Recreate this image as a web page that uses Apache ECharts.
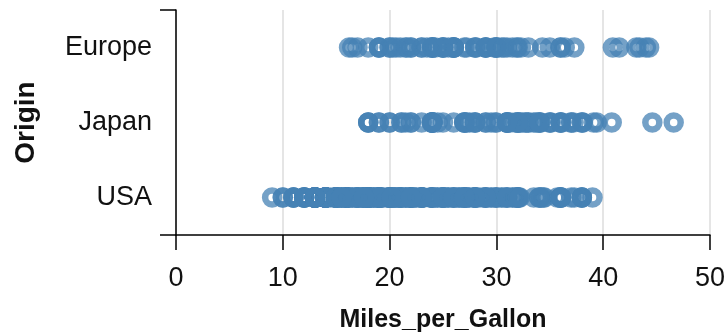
<!DOCTYPE html>
<html>
<head>
<meta charset="utf-8">
<script src="https://cdn.jsdelivr.net/npm/echarts@6/dist/echarts.min.js"></script>
<style>
  html, body { margin: 0; padding: 0; background: #fff; }
  #chart { width: 728px; height: 332px; }
</style>
</head>
<body>
<div id="chart"></div>
<script>
// Miles_per_Gallon readings per origin
const origins = ['Europe', 'Japan', 'USA'];
const xTicks = [0, 10, 20, 30, 40, 50];

const europeMpg = [26, 25, 24, 25, 26, 28, 30, 30, 27, 23, 22, 26, 28, 24, 21, 19, 23, 26, 29, 24,
    20, 19, 24, 26, 31, 32, 26, 25, 29, 24, 20, 16.2, 17, 18, 19, 21.5, 22, 25, 29, 30,
    36, 25.5, 20.3, 21.6, 16.5, 29.8, 31.5, 30.5, 29, 37.3, 43.1, 36.4, 30, 41.5, 44.3, 43.4, 44, 40.9,
    35, 33, 34.3, 31.9, 28.1, 30.7, 32.3, 36, 27.2, 24.3, 20.6, 23.5];

const japanMpg = [24, 27, 27, 25, 31, 35, 24, 19, 28, 23, 27, 20, 22, 18, 20, 31, 32, 31, 32, 24,
    26, 29, 24, 24, 33, 33, 32, 28, 19, 31, 29, 27, 24, 24, 22, 33.5, 21.1, 30, 24.5, 21.5,
    31, 32.8, 39.4, 36.1, 27.5, 27.2, 21.1, 23.9, 29.5, 34.1, 31.8, 38.1, 37.2, 28, 35.1, 40.8,
    44.6, 46.6, 39.1, 37, 31.3, 32.2, 34.1, 35, 32.7, 33.7, 32.4, 29.9, 34, 38, 32, 38, 36, 36,
    36, 34, 31, 37, 18, 18];

const usaMpg = [18, 15, 18, 16, 17, 15, 14, 14, 14, 15, 15, 14, 15, 14, 22, 18, 21, 21, 10, 10,
    11, 9, 28, 25, 19, 16, 17, 19, 18, 14, 14, 14, 14, 12, 13, 13, 18, 22, 19, 18,
    23, 26, 25, 20, 21, 13, 14, 15, 14, 17, 11, 13, 12, 13, 15, 13, 13, 14, 22, 28,
    13, 14, 13, 14, 15, 12, 13, 13, 14, 13, 12, 13, 18, 16, 18, 18, 23, 11, 12, 13,
    12, 18, 21, 19, 21, 15, 16, 15, 11, 20, 21, 19, 15, 26, 25, 16, 16, 18, 16, 13,
    14, 14, 14, 28, 19, 18, 15, 15, 16, 15, 16, 14, 17, 16, 15, 18, 21, 20, 13, 23,
    20, 23, 24, 25, 24, 18, 29, 19, 23, 23, 22, 25, 28, 25, 25, 26, 27, 17.5, 16, 15.5,
    14.5, 22, 22, 24, 22.5, 29, 24.5, 29, 20, 18, 18.5, 17.5, 29.5, 32, 28, 26.5, 20, 13, 19, 19,
    16.5, 16.5, 13, 13, 13, 31.5, 30, 25.5, 17.5, 17, 15.5, 15, 17.5, 20.5, 19, 18.5, 16, 15.5,
    15.5, 16, 29, 24.5, 26, 25.5, 30.5, 30, 30.5, 22, 21.5, 21.5, 19.9, 19.4, 20.2, 19.2,
    20.5, 20.6, 18.6, 18.1, 19.2, 17.7, 18.1, 17.5, 30, 27.5, 27.2, 30.9, 21.1, 23.2, 23.8,
    23.9, 20.3, 17, 21.6, 16.2, 31.5, 29.5, 21.5, 19.8, 22.3, 20.2, 20.6, 17, 17.6, 16.5,
    18.2, 16.9, 15.5, 19.2, 18.5, 31.9, 34.1, 35.7, 27.4, 25.4, 23, 27.2, 23.9, 34.2, 34.5,
    31.8, 37.3, 28.4, 28.8, 26.8, 33.5, 32.1, 28, 26.4, 24.3, 19.1, 34.4, 29.9, 22.4, 26.6,
    20.2, 17.6, 28, 27, 34, 31, 29, 27, 24, 23, 36, 37, 31, 38, 36, 36, 36, 34, 38, 32,
    38, 25, 38, 26, 22, 32, 36, 27, 27, 32, 28, 31, 39, 36.1, 32.2];

const seriesByOrigin = { Europe: europeMpg, Japan: japanMpg, USA: usaMpg };
const points = [];
origins.forEach(o => {
    seriesByOrigin[o].forEach(v => points.push([v, o]));
});

const fontFamily = 'Liberation Sans, Arial, Helvetica, sans-serif';

const chart = echarts.init(document.getElementById('chart'), null, { renderer: 'canvas' });
chart.setOption({
    animation: false,
    grid: { left: 176, right: 18, top: 10, bottom: 97, outerBoundsMode: 'none' },
    xAxis: {
        type: 'value',
        min: xTicks[0],
        max: xTicks[xTicks.length - 1],
        interval: 10,
        name: 'Miles_per_Gallon',
        nameLocation: 'middle',
        nameGap: 73,
        nameTextStyle: { color: '#111', fontSize: 25, fontWeight: 'bold', fontFamily },
        axisLine: { lineStyle: { color: '#000', width: 1.5 } },
        axisTick: { length: 15, lineStyle: { color: '#000', width: 1.5 } },
        axisLabel: { color: '#111', fontSize: 27, fontFamily, margin: 30 },
        splitLine: { show: true, lineStyle: { color: '#dddddd', width: 1.5 } }
    },
    yAxis: [{
        type: 'category',
        data: origins,
        inverse: true,
        name: 'Origin',
        nameLocation: 'middle',
        nameGap: 136,
        nameTextStyle: { color: '#111', fontSize: 28, fontWeight: 'bold', fontFamily },
        axisLine: { lineStyle: { color: '#000', width: 1.5 } },
        axisTick: { alignWithLabel: true, length: 16, lineStyle: { color: '#000', width: 1.5 } },
        axisLabel: { color: '#111', fontSize: 27, fontFamily, margin: 24 },
        splitLine: { show: false }
    }, {
        // end caps of the y domain line
        type: 'value',
        position: 'left',
        min: 0,
        max: 1,
        interval: 1,
        axisLine: { show: false },
        axisTick: { show: true, length: 16, lineStyle: { color: '#000', width: 1.5 } },
        axisLabel: { show: false },
        splitLine: { show: false }
    }],
    series: [{
        type: 'scatter',
        data: points,
        symbol: 'circle',
        symbolSize: 14,
        itemStyle: {
            color: 'rgba(0,0,0,0)',
            borderColor: '#4682b4',
            borderWidth: 6.5,
            opacity: 0.75
        }
    }]
});
</script>
</body>
</html>
